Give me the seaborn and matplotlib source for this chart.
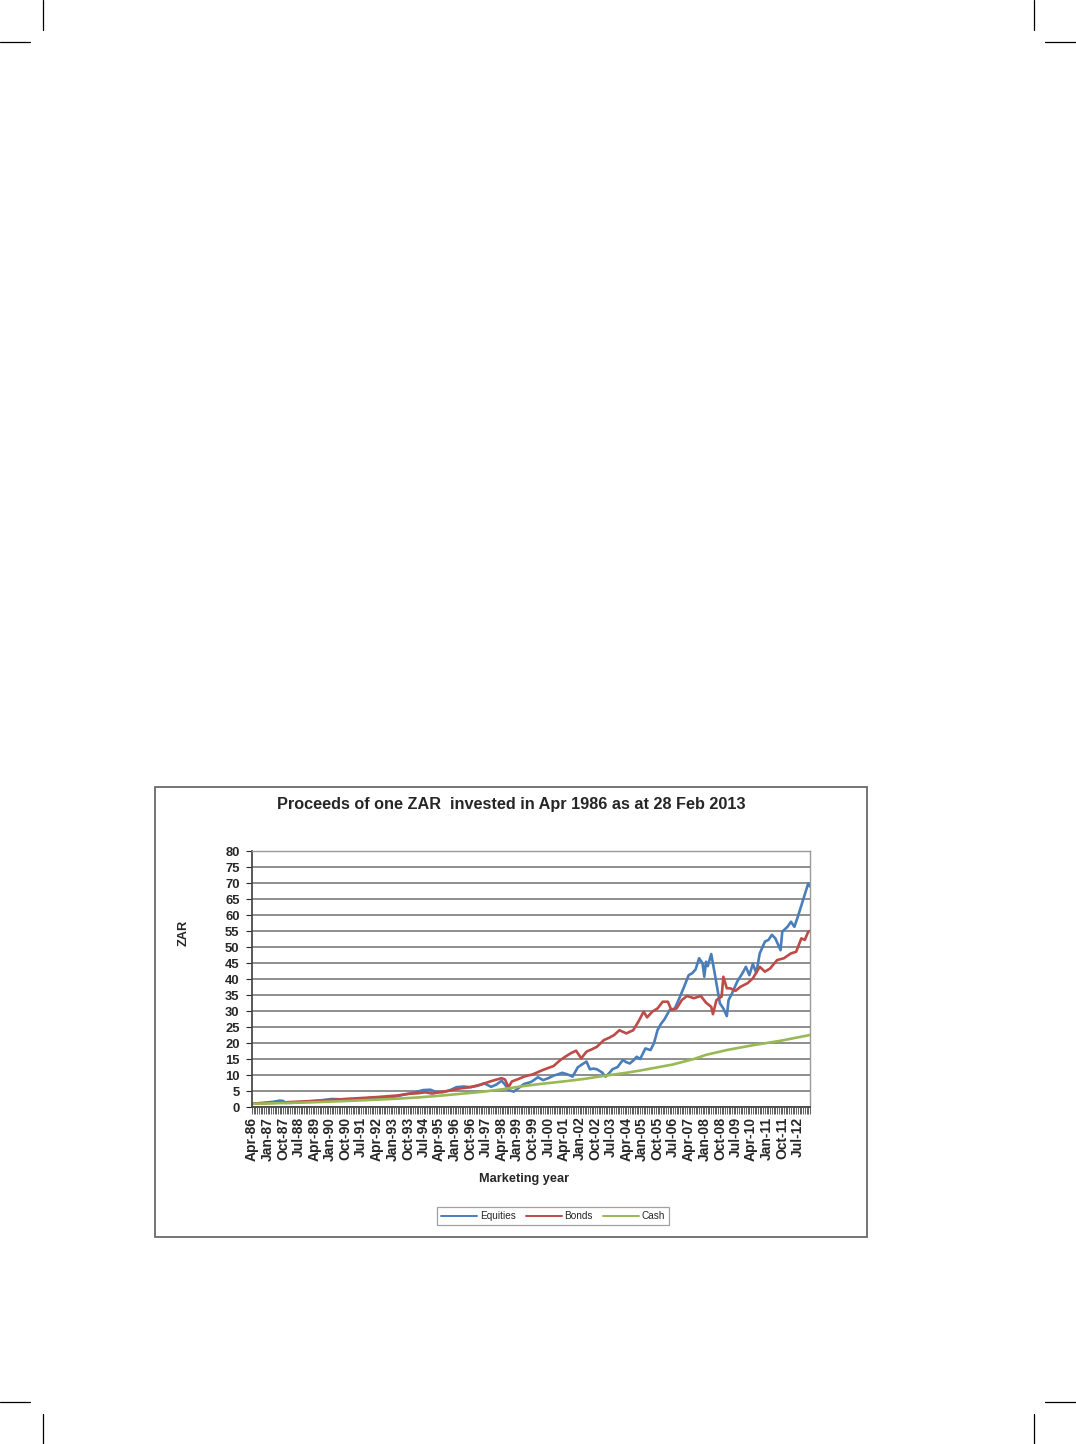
import matplotlib
matplotlib.use('Agg')

import pandas as pd
import matplotlib.pyplot as plt
import seaborn as sns
from matplotlib.lines import Line2D
from matplotlib.patches import Rectangle

# month index 0 = Apr-86 ... 322 = Feb-13
equities_m = [0, 6, 12, 16, 18, 19, 22, 28, 34, 40, 46, 52, 58, 64, 70, 76, 82, 88, 92, 96,
              99, 103, 106, 110, 114, 118, 122, 126, 130, 134, 138, 141, 144, 146, 148, 151,
              154, 157, 161, 165, 168, 171, 174, 177, 179, 182, 185, 188, 191, 193, 195, 197,
              199, 202, 204, 206, 208, 211, 214, 216, 218, 220, 222, 224, 227, 230, 232, 234,
              236, 238, 241, 244, 247, 249, 252, 254, 256, 258, 260, 261, 262, 263, 265, 267,
              269, 270, 272, 274, 275, 277, 280, 283, 285, 287, 289, 291, 293, 296, 298, 300,
              302, 305, 306, 309, 311, 313, 315, 318, 321, 322]
equities_v = [1.0, 1.3, 1.6, 2.0, 1.9, 1.3, 1.3, 1.5, 1.8, 2.1, 2.5, 2.4, 2.5, 2.6, 2.9, 2.8, 3.2, 3.9, 4.3, 4.9,
              5.3, 5.4, 4.7, 4.6, 5.2, 6.2, 6.4, 6.2, 6.6, 7.4, 6.3, 7.0, 8.2, 7.0, 5.3, 4.8,
              6.0, 7.2, 7.8, 9.3, 8.4, 9.0, 9.8, 10.3, 10.7, 10.2, 9.5, 12.4, 13.5, 14.2, 11.8, 12.0,
              11.8, 10.8, 9.5, 10.5, 11.8, 12.5, 14.7, 14.0, 13.6, 14.5, 15.7, 15.0, 18.3, 17.8, 20.0, 24.0,
              26.0, 27.4, 30.3, 30.8, 34.5, 37.1, 41.2, 41.8, 43.0, 46.5, 44.9, 40.7, 45.4, 44.0, 47.8, 41.8,
              35.5, 32.4, 30.8, 28.4, 33.4, 35.5, 39.2, 41.8, 43.8, 41.2, 44.7, 41.9, 48.0, 51.7, 52.2, 53.8,
              52.7, 49.0, 54.8, 56.3, 57.9, 56.3, 59.5, 64.7, 69.9, 68.9]

bonds_m = [0, 12, 24, 36, 48, 60, 72, 84, 90, 96, 100, 104, 108, 114, 120, 126, 132, 137, 140, 144,
           146, 148, 150, 154, 157, 162, 168, 174, 178, 181, 184, 187, 190, 193, 196, 199, 203, 206,
           209, 212, 216, 220, 223, 226, 228, 231, 234, 237, 240, 242, 245, 248, 251, 255, 259, 262,
           265, 266, 268, 271, 272, 274, 276, 279, 282, 286, 289, 293, 296, 299, 303, 307, 311, 314,
           317, 319, 321, 322]
bonds_v = [1.0, 1.3, 1.6, 1.9, 2.3, 2.7, 3.1, 3.6, 4.1, 4.3, 4.6, 4.2, 4.6, 5.1, 5.8, 6.2, 7.0, 7.9, 8.4, 9.0,
           8.6, 6.2, 8.0, 8.8, 9.5, 10.2, 11.6, 12.8, 14.7, 15.8, 16.8, 17.6, 15.2, 17.3, 18.0, 18.8, 20.9, 21.6,
           22.5, 24.0, 23.0, 24.0, 26.7, 29.8, 28.0, 29.8, 30.8, 32.9, 32.9, 30.3, 30.8, 33.4, 34.7, 34.0, 34.7, 32.6,
           31.3, 29.0, 33.4, 34.5, 40.7, 37.1, 37.1, 36.3, 37.6, 38.7, 40.2, 43.8, 42.3, 43.3, 45.9, 46.5, 48.0, 48.5,
           52.7, 52.2, 54.8, 55.0]

cash_m = [0, 12, 24, 36, 48, 60, 72, 84, 96, 108, 120, 132, 144, 156, 168, 180, 192, 204, 216, 224,
          235, 243, 255, 262, 274, 289, 305, 322]
cash_v = [1.0, 1.15, 1.3, 1.5, 1.75, 2.0, 2.3, 2.6, 3.0, 3.5, 4.1, 4.7, 5.5, 6.5, 7.3, 8.0, 8.8, 9.8, 10.7, 11.4,
          12.5, 13.3, 15.0, 16.3, 17.8, 19.3, 20.7, 22.5]

tick_labels = ['Apr-86', 'Jan-87', 'Oct-87', 'Jul-88', 'Apr-89', 'Jan-90', 'Oct-90', 'Jul-91',
               'Apr-92', 'Jan-93', 'Oct-93', 'Jul-94', 'Apr-95', 'Jan-96', 'Oct-96', 'Jul-97',
               'Apr-98', 'Jan-99', 'Oct-99', 'Jul-00', 'Apr-01', 'Jan-02', 'Oct-02', 'Jul-03',
               'Apr-04', 'Jan-05', 'Oct-05', 'Jul-06', 'Apr-07', 'Jan-08', 'Oct-08', 'Jul-09',
               'Apr-10', 'Jan-11', 'Oct-11', 'Jul-12']
n_months = 323

series = ['Equities', 'Bonds', 'Cash']
colors = ['#4A7EBB', '#BE4B48', '#98B954']

df = pd.concat([
    pd.DataFrame({'month': equities_m, 'ZAR': equities_v, 'series': 'Equities'}),
    pd.DataFrame({'month': bonds_m, 'ZAR': bonds_v, 'series': 'Bonds'}),
    pd.DataFrame({'month': cash_m, 'ZAR': cash_v, 'series': 'Cash'}),
])

sns.set_theme(style='white')
plt.rcParams['font.family'] = ['Liberation Sans', 'DejaVu Sans']

W, H = 1076, 1444
fig = plt.figure(figsize=(W / 100, H / 100), dpi=100)
fig.patch.set_facecolor('white')

# chart frame
fig.patches.append(Rectangle((155 / W, 1 - 1237 / H), 712 / W, 450 / H, transform=fig.transFigure,
                             fill=False, edgecolor='#6a6a6a', linewidth=1.3))

# crop marks
for x0, x1, y0, y1 in [(42.5, 42.5, 0, 30), (0, 30, 42, 42), (1034, 1034, 0, 30), (1045, 1076, 42, 42),
                       (42.5, 42.5, 1414, 1444), (0, 30, 1402, 1402), (1034, 1034, 1414, 1444),
                       (1045, 1076, 1402, 1402)]:
    fig.add_artist(Line2D([x0 / W, x1 / W], [1 - y0 / H, 1 - y1 / H], transform=fig.transFigure,
                          color='black', linewidth=0.9))

ax = fig.add_axes([252 / W, 1 - 1107 / H, 558 / W, 256 / H])
sns.lineplot(data=df, x='month', y='ZAR', hue='series', hue_order=series, palette=colors,
             estimator=None, linewidth=1.9, legend=False, ax=ax)

ax.set_xlim(0, n_months - 1)
ax.set_ylim(0, 80)
ax.set_yticks(range(0, 81, 5))
ax.yaxis.grid(True, color='#707070', linewidth=1.1)
ax.set_axisbelow(True)
ax.set_xticks(range(0, n_months, 9))
ax.set_xticklabels(tick_labels, rotation=90, fontsize=10, fontweight='bold')
ax.set_xticks(range(n_months), minor=True)
ax.tick_params(axis='x', which='both', direction='out', length=5, width=0.6, color='#444444',
               bottom=True, pad=2)
ax.tick_params(axis='y', direction='out', length=4, width=0.8, left=True, pad=5)
for t in ax.get_yticklabels():
    t.set_fontsize(9.4)
    t.set_fontweight('bold')
for side in ['top', 'right']:
    ax.spines[side].set_color('#9a9a9a')
    ax.spines[side].set_linewidth(1.0)
ax.spines['left'].set_color('#444444')
ax.spines['bottom'].set_color('#444444')

ax.set_xlabel('')
ax.set_ylabel('')
fig.text(184 / W, 1 - 933 / H, 'ZAR', rotation=90, ha='center', va='center', fontsize=9.2,
         fontweight='bold')
fig.text(524 / W, 1 - 1179 / H, 'Marketing year', ha='center', va='center', fontsize=9.2,
         fontweight='bold')
fig.text(511 / W, 1 - 804 / H, 'Proceeds of one ZAR  invested in Apr 1986 as at 28 Feb 2013',
         ha='center', va='center', fontsize=11.7, fontweight='bold')

handles = [Line2D([0], [0], color=c, linewidth=1.4) for c in colors]
leg = ax.legend(handles, series, loc='center', bbox_to_anchor=(553 / W, 1 - 1216 / H),
                bbox_transform=fig.transFigure, ncol=3, fontsize=7.2, frameon=True, fancybox=False,
                handlelength=3.6, handletextpad=0.3, columnspacing=1.0, borderpad=0.4)
leg.get_frame().set_edgecolor('#8a8a8a')
leg.get_frame().set_linewidth(0.9)

fig.savefig('out.png', dpi=100)
